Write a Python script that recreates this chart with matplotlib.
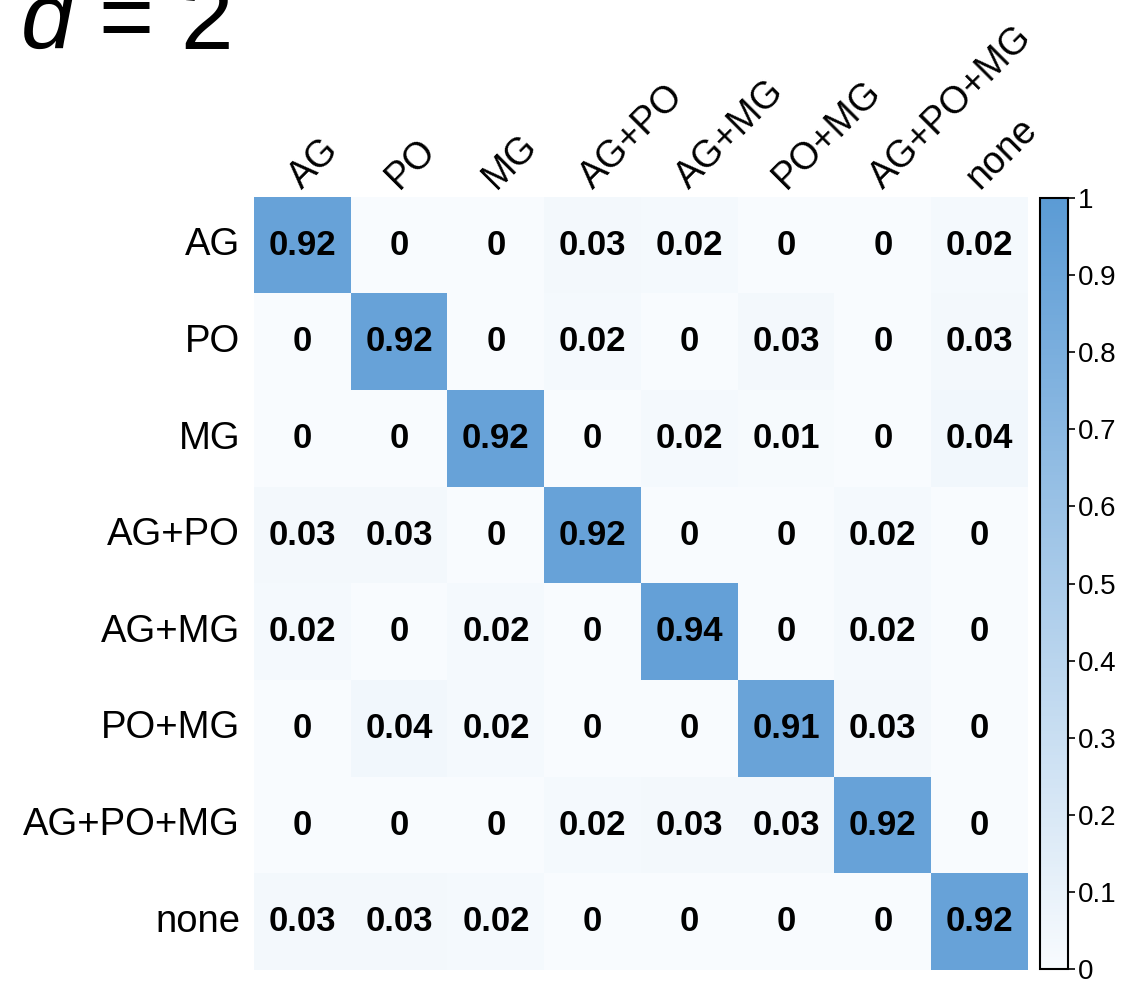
import matplotlib
matplotlib.use("Agg")
import matplotlib.pyplot as plt
import numpy as np
from matplotlib.colors import LinearSegmentedColormap

labels = ["AG", "PO", "MG", "AG+PO", "AG+MG", "PO+MG", "AG+PO+MG", "none"]
row_AG = [0.92, 0, 0, 0.03, 0.02, 0, 0, 0.02]
row_PO = [0, 0.92, 0, 0.02, 0, 0.03, 0, 0.03]
row_MG = [0, 0, 0.92, 0, 0.02, 0.01, 0, 0.04]
row_AGPO = [0.03, 0.03, 0, 0.92, 0, 0, 0.02, 0]
row_AGMG = [0.02, 0, 0.02, 0, 0.94, 0, 0.02, 0]
row_POMG = [0, 0.04, 0.02, 0, 0, 0.91, 0.03, 0]
row_AGPOMG = [0, 0, 0, 0.02, 0.03, 0.03, 0.92, 0]
row_none = [0.03, 0.03, 0.02, 0, 0, 0, 0, 0.92]
cbar_ticks = [0, 0.1, 0.2, 0.3, 0.4, 0.5, 0.6, 0.7, 0.8, 0.9, 1]
cbar_labels = ["0", "0.1", "0.2", "0.3", "0.4", "0.5", "0.6", "0.7", "0.8", "0.9", "1"]

M = np.array([row_AG, row_PO, row_MG, row_AGPO, row_AGMG, row_POMG, row_AGPOMG, row_none])

plt.rcParams['font.family'] = ['Liberation Sans', 'DejaVu Sans']
plt.rcParams['mathtext.fontset'] = 'custom'
plt.rcParams['mathtext.it'] = 'Liberation Sans:italic'
plt.rcParams['mathtext.rm'] = 'Liberation Sans'

cmap = LinearSegmentedColormap.from_list("wb", ["#f8fbfe", "#5b9bd5"])

fig = plt.figure(figsize=(11.37, 9.85), dpi=100)
ax = fig.add_axes([254/1137, 1-970/985, (1028-254)/1137, (970-197)/985])
im = ax.imshow(M, cmap=cmap, vmin=0, vmax=1, aspect='auto')

for i in range(M.shape[0]):
    for j in range(M.shape[1]):
        v = M[i, j]
        s = "0" if v == 0 else f"{v:.2f}"
        ax.text(j, i, s, ha='center', va='center', fontsize=25, fontweight='bold', color='black')

ax.set_xticks(range(len(labels)))
ax.set_yticks(range(len(labels)))
ax.xaxis.tick_top()
ax.set_xticklabels(labels, rotation=45, ha='left', va='baseline', rotation_mode='anchor', fontsize=27)
ax.set_yticklabels(labels, fontsize=27.5, va='center')
ax.tick_params(length=0)
ax.tick_params(axis='y', pad=10)
ax.tick_params(axis='x', pad=5)
for sp in ax.spines.values():
    sp.set_visible(False)

cax = fig.add_axes([1040/1137, 1-969/985, 28/1137, (969-198)/985])
cb = fig.colorbar(im, cax=cax, ticks=cbar_ticks)
cb.ax.set_yticklabels(cbar_labels)
cb.ax.tick_params(labelsize=20, length=5, width=1.2, pad=2)
cb.outline.set_linewidth(1.5)

fig.text(20/1137, 1-49/985, r"$\mathit{d}$ = 2", fontsize=68, ha='left', va='baseline')

fig.savefig("out.png", dpi=100)
